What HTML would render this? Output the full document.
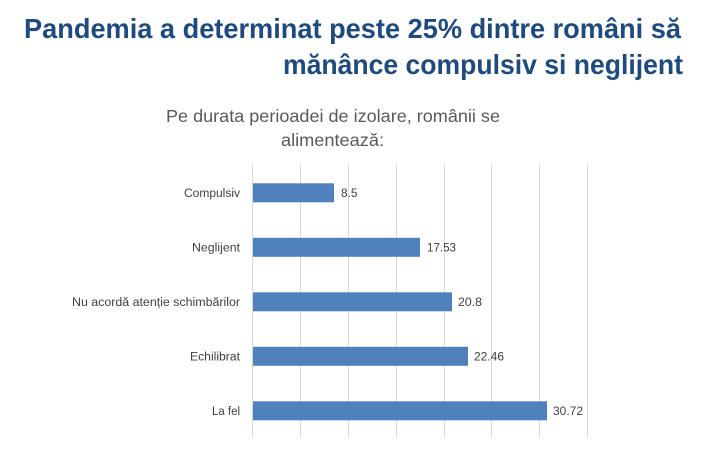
<!DOCTYPE html>
<html>
<head>
<meta charset="utf-8">
<style>
html,body{margin:0;padding:0;background:#fff;}
svg{display:block;}
</style>
</head>
<body>
<svg width="702" height="469" viewBox="0 0 702 469" xmlns="http://www.w3.org/2000/svg">
<rect width="702" height="469" fill="#ffffff"/>
<g font-family="Liberation Sans, sans-serif" font-weight="bold" fill="#1f4a7e" font-size="28">
<text x="24" y="38" textLength="657" lengthAdjust="spacingAndGlyphs">Pandemia a determinat peste 25% dintre români să</text>
<text x="283" y="74" textLength="400" lengthAdjust="spacingAndGlyphs">mănânce compulsiv si neglijent</text>
</g>
<g font-family="Liberation Sans, sans-serif" fill="#595959" font-size="17.5">
<text x="166" y="122" textLength="334" lengthAdjust="spacingAndGlyphs">Pe durata perioadei de izolare, românii se</text>
<text x="281" y="146" textLength="103" lengthAdjust="spacingAndGlyphs">alimentează:</text>
</g>
<g stroke="#d9d9d9" stroke-width="1">
<line x1="252.5" y1="164" x2="252.5" y2="438"/>
<line x1="300.5" y1="164" x2="300.5" y2="438"/>
<line x1="348.5" y1="164" x2="348.5" y2="438"/>
<line x1="396.5" y1="164" x2="396.5" y2="438"/>
<line x1="444.5" y1="164" x2="444.5" y2="438"/>
<line x1="491.5" y1="164" x2="491.5" y2="438"/>
<line x1="539.5" y1="164" x2="539.5" y2="438"/>
<line x1="587.5" y1="164" x2="587.5" y2="438"/>
</g>
<g fill="#4f81bd">
<rect x="253" y="183.3" width="81" height="19"/>
<rect x="253" y="237.8" width="167" height="19"/>
<rect x="253" y="292.3" width="199" height="19"/>
<rect x="253" y="346.8" width="215" height="19"/>
<rect x="253" y="401.3" width="294" height="19"/>
</g>
<g font-family="Liberation Sans, sans-serif" fill="#404040" font-size="11.5" text-anchor="end">
<text x="240" y="197" textLength="56" lengthAdjust="spacingAndGlyphs">Compulsiv</text>
<text x="240" y="251.5" textLength="48" lengthAdjust="spacingAndGlyphs">Neglijent</text>
<text x="240" y="306" textLength="168" lengthAdjust="spacingAndGlyphs">Nu acordă atenție schimbărilor</text>
<text x="240" y="360.5" textLength="50" lengthAdjust="spacingAndGlyphs">Echilibrat</text>
<text x="240" y="415" textLength="28" lengthAdjust="spacingAndGlyphs">La fel</text>
</g>
<g font-family="Liberation Sans, sans-serif" fill="#404040" font-size="11.5">
<text x="341" y="197" textLength="16.5" lengthAdjust="spacingAndGlyphs">8.5</text>
<text x="427" y="251.5" textLength="29" lengthAdjust="spacingAndGlyphs">17.53</text>
<text x="458" y="306" textLength="24" lengthAdjust="spacingAndGlyphs">20.8</text>
<text x="474" y="360.5" textLength="30" lengthAdjust="spacingAndGlyphs">22.46</text>
<text x="553" y="415" textLength="30" lengthAdjust="spacingAndGlyphs">30.72</text>
</g>
</svg>
</body>
</html>
